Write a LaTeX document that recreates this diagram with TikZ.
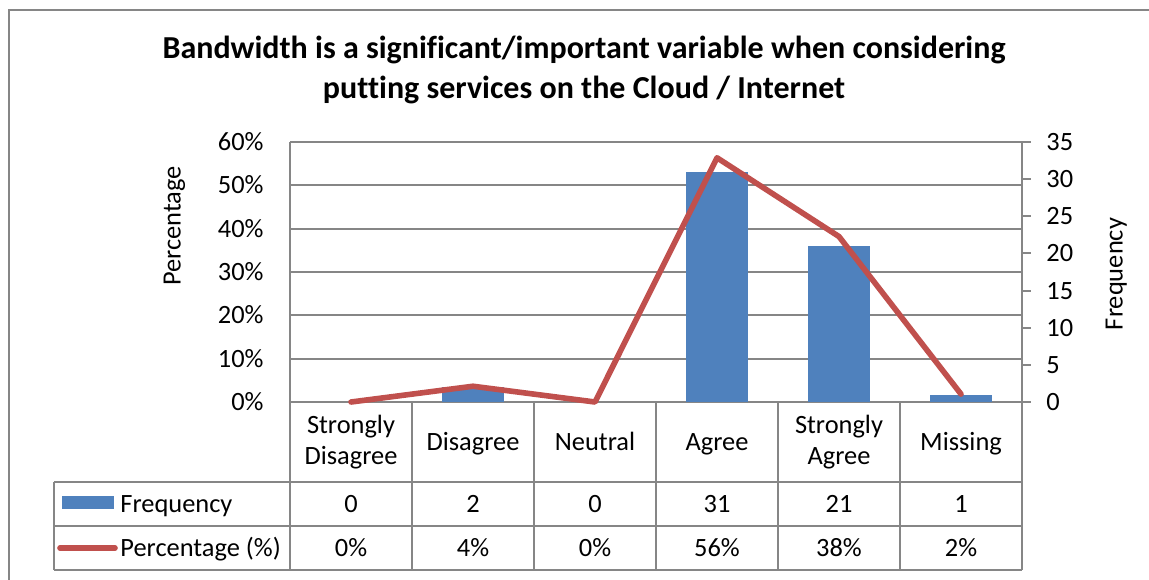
\documentclass[tikz,border=0pt]{standalone}
\usepackage{fontspec}
\setmainfont{Carlito}[Ligatures=NoCommon]
\usetikzlibrary{calc}

\definecolor{barblue}{HTML}{4F81BD}
\definecolor{linered}{HTML}{C0504D}
\definecolor{gridgray}{HTML}{868686}

\begin{document}
\begin{tikzpicture}[x=0.5pt,y=-0.5pt,
  grid/.style={gridgray,line width=1pt},
  lbl/.style={font=\fontsize{13.2}{15.5}\selectfont,inner sep=0pt,text height=8.5pt,text depth=0pt},
  catlbl/.style={font=\fontsize{13.2}{15.5}\selectfont,inner sep=0pt,align=center},
  serie/.style={linered,line width=2.8pt,line join=round,line cap=round}]

\useasboundingbox (0,0) rectangle (1149,579);

% Outer frame (runs off the right and bottom)
\draw[gridgray,line width=0.75pt] (9,10) rectangle (1180,610);

% Title
\node[font=\bfseries\fontsize{16}{20}\selectfont,align=center] (title) at (584,70)
  {Bandwidth is a significant/important variable when considering\\putting services on the Cloud / Internet};

% Gridlines and left axis labels
\foreach \p in {0,10,...,60}
{
\draw[grid] (290,{402-\p*13/3})--(1022,{402-\p*13/3});
\node[lbl,anchor=east] (tl\p) at (264,{402-\p*13/3}){\p\%};
}

% Right axis ticks and labels
\foreach \f in {0,5,...,35}
{
\draw[grid] (1022,{402-\f*52/7})--(1031,{402-\f*52/7});
\node[lbl,anchor=west] (tr\f) at (1046,{402-\f*52/7}){\f};
}

% Axis titles
\node[lbl,rotate=90] (ytl) at (172,226){Percentage};
\node[lbl,rotate=90] (ytr) at (1114,274){Frequency};

% Bars, categories and table values
\foreach \i/\c/\s/\f/\p in {1/{Strongly\\Disagree}/catlbl/0/0,2/Disagree/lbl/2/4,3/Neutral/lbl/0/0,
                            4/Agree/lbl/31/56,5/{Strongly\\Agree}/catlbl/21/38,6/Missing/lbl/1/2}
{
\ifnum\f>0
\fill[barblue] ({229+122*\i-31},402) rectangle ({229+122*\i+31},{402-\f*52/7});
\fi
\node[\s] (cat\i) at ({229+122*\i},442){\c};
\node[lbl] (fq\i) at ({229+122*\i},504){\f};
\node[lbl] (pc\i) at ({229+122*\i},548){\p\%};
}

% Percentage line
\draw[serie] (351,402)
  \foreach \i/\v in {2/3.64,3/0,4/56.36,5/38.18,6/1.82}{--({229+122*\i},{402-\v*13/3})};

% Axes and table lines
\draw[grid] (290,142)--(290,570);
\draw[grid] (1022,142)--(1022,570);
\foreach \x in {412,534,656,778,900}
{
\draw[grid] (\x,402)--(\x,570);
}
\foreach \y in {482,526,570}
{
\draw[grid] (54,\y)--(1022,\y);
}
\draw[grid] (54,482)--(54,570);

% Legend keys
\fill[barblue] (62,496) rectangle (114,509);
\node[lbl,anchor=west] (legf) at (120,504){Frequency};
\draw[serie] (60,548)--(115,548);
\node[lbl,anchor=west] (legp) at (120,548){Percentage (\%)};

\end{tikzpicture}
\end{document}
